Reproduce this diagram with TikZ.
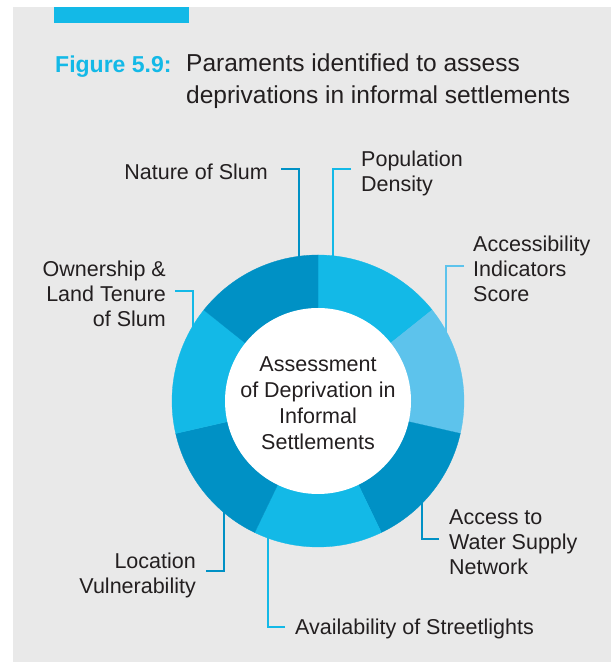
\documentclass[tikz,border=0pt]{standalone}
\usepackage{fontspec}
\setmainfont{Liberation Sans}
\usepackage{tikz}
\usetikzlibrary{calc}
\definecolor{segcyan}{RGB}{19,185,231}
\definecolor{seglight}{RGB}{93,195,236}
\definecolor{segdark}{RGB}{0,145,197}
\definecolor{bggrey}{RGB}{233,233,233}
\definecolor{txtgrey}{RGB}{35,31,32}

\begin{document}
\begin{tikzpicture}[
  x=1pt, y=1pt,
  lbl/.style={inner sep=0pt, text=txtgrey, font=\fontsize{21.5}{25}\selectfont},
  lblL/.style={lbl, anchor=base west, align=left},
  lblR/.style={lbl, anchor=base east, align=right},
  lead/.style={line width=2pt, draw=#1},
]
\useasboundingbox (0,0) rectangle (611,663);
\fill[bggrey] (13,1) rectangle (611,656);
\fill[segcyan] (54,640) rectangle (189,656);

% title
\node[inner sep=0pt, anchor=base west, text=segcyan, font=\fontsize{23}{32}\selectfont\bfseries] (fig) at (55,590) {Figure 5.9:};
\node[inner sep=0pt, anchor=base west, align=left, text=txtgrey, font=\fontsize{24.5}{32}\selectfont] (ttl) at (186,559) {Paraments identified to assess\\deprivations in informal settlements};

% labels round the ring (base = last line)
\coordinate (ctr) at (318,262);
\node[lblR] (nat) at (268,483) {Nature of Slum};
\node[lblL] (pop) at (361,471) {Population\\Density};
\node[lblR] (own) at (166,336) {Ownership \&\\Land Tenure\\of Slum};
\node[lblL] (acc) at (473,361) {Accessibility\\Indicators\\Score};
\node[lblL] (wat) at (449,88) {Access to\\Water Supply\\Network};
\node[lblR] (loc) at (196,69) {Location\\Vulnerability};
\node[lblL] (str) at (295,28) {Availability of Streetlights};

\coordinate (natring) at (299,400);
\coordinate (popring) at (333,400);
\coordinate (ownring) at (193,330);
\coordinate (accring) at (446,325);
\coordinate (watring) at (422,166);
\coordinate (locring) at (224,157);
\coordinate (strring) at (268,132);

\draw[lead=segdark] ([shift={(13,11)}]nat.base east) -| (natring);
\draw[lead=segcyan] ([shift={(-10,23)}]pop.base west) -| (popring);
\draw[lead=segcyan] ([shift={(9,36)}]own.base east) -| (ownring);
\draw[lead=seglight] ([shift={(-9,36)}]acc.base west) -| (accring);
\draw[lead=segdark] ([shift={(-10,36)}]wat.base west) -| (watring);
\draw[lead=segdark] ([shift={(10,23)}]loc.base east) -| (locring);
\draw[lead=segcyan] ([shift={(-10,8)}]str.base west) -| (strring);

% ring
\foreach \segcol [count=\i from 0] in {segcyan,seglight,segdark,segcyan,segdark,segcyan,segdark}{
  \pgfmathsetmacro{\sa}{90-\i*360/7}
  \pgfmathsetmacro{\ea}{\sa-360/7}
  \filldraw[\segcol, line width=0.3pt] (ctr) -- ([shift={(\sa:146pt)}]ctr) arc[start angle=\sa, end angle=\ea, radius=146pt] -- cycle;
}
\fill[white] (ctr) circle[radius=93pt];
\node[inner sep=0pt, align=center, text=txtgrey, font=\fontsize{21.5}{26}\selectfont] (hub) at (318,260) {Assessment\\of Deprivation in\\Informal\\Settlements};
\end{tikzpicture}
\end{document}
